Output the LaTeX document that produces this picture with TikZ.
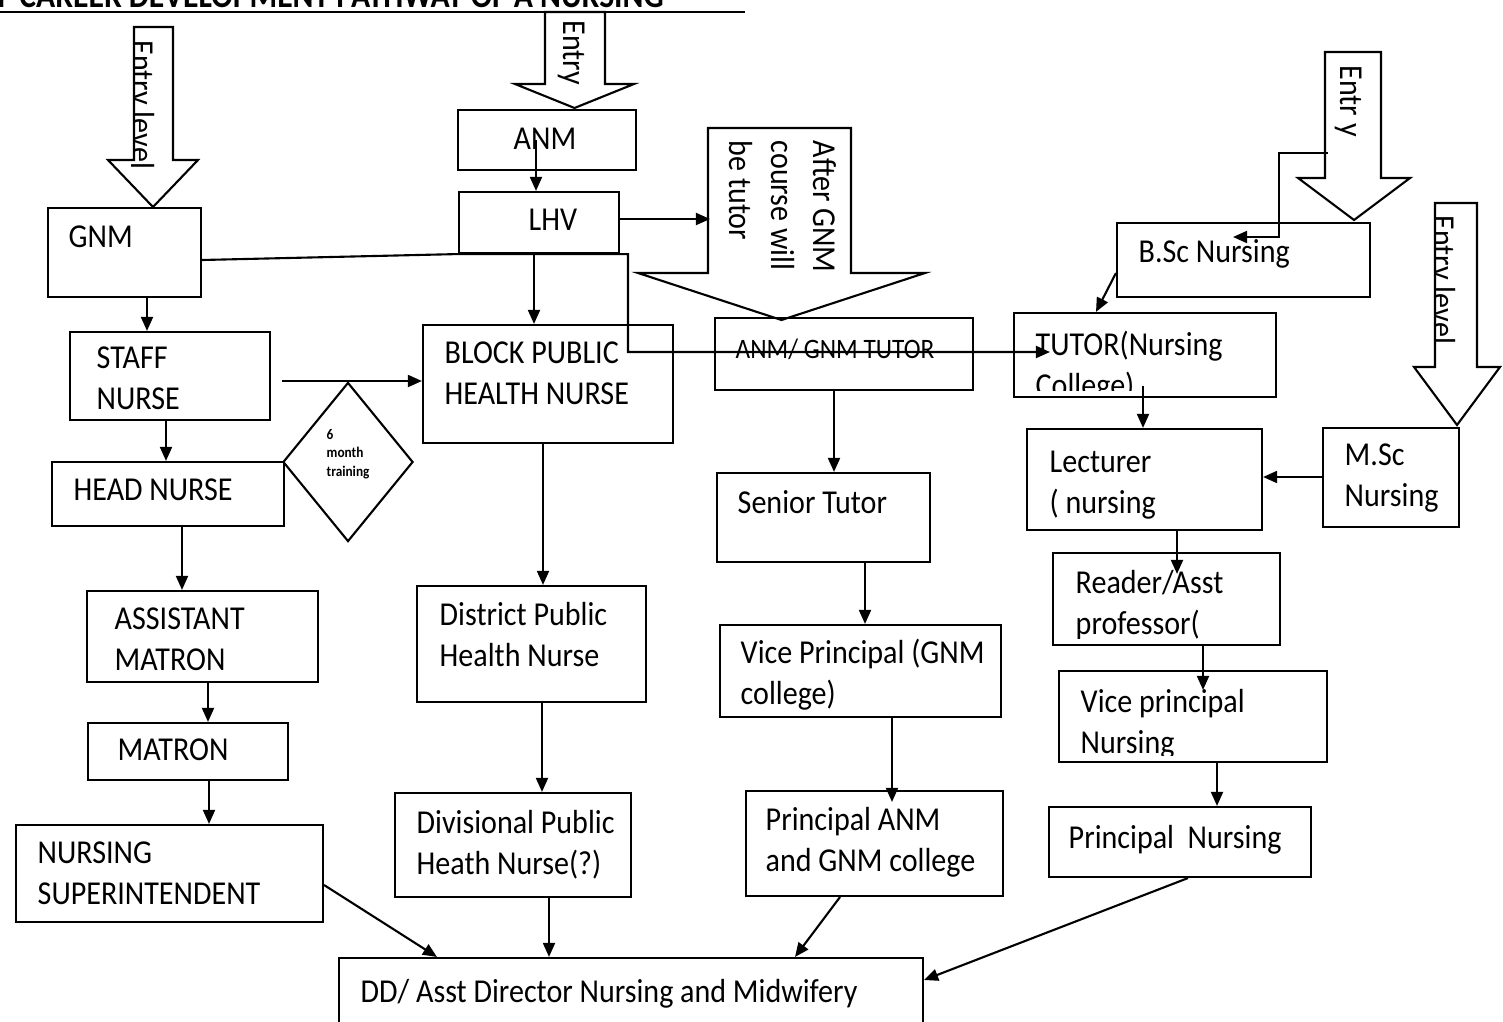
\documentclass[tikz,border=0pt]{standalone}
\usepackage{fontspec}
\setmainfont{Carlito}[FakeStretch=0.9]
\usepackage{tikz}
\usetikzlibrary{calc,fit,arrows.meta,shapes.geometric}

\newcommand{\boxfont}{\fontsize{9.5}{11.9}\selectfont}
\newcommand{\stacklines}[1]{\begin{tabular}[t]{@{}l@{}}#1\end{tabular}}

\tikzset{
	postframe/.style={draw, line width=0.6pt, inner sep=0pt},
	posttxt/.style={anchor=base west, inner sep=0pt, font=\boxfont},
	entryarrow/.style={draw, fill=white, line width=0.6pt, line join=miter},
	link/.style={line width=0.6pt, -{Triangle[length=4pt,width=3.4pt]}},
}

% a post of the pathway: name, two corners, start of the text, text
\newcommand{\postbox}[8]{%
	\node[postframe, fit={(#2,#3) (#4,#5)}] (#1) {};
	\begin{scope}
		\clip (#2,#3) rectangle (#4,#5-7);
		\node[posttxt] (#1-t) at (#6,#7) {\stacklines{#8}};
	\end{scope}
}
% big entry arrow: shaft left, shaft right, top, neck, head left, head right, tip
\newcommand{\entryshape}[7]{%
	\def\arrowoutline{(#1,#3) -- (#1,#4) -- (#5,#4) -- ({(#5+#6)/2},#7) -- (#6,#4) -- (#2,#4) -- (#2,#3) -- cycle}%
	\path[entryarrow] \arrowoutline;
}
% text running down the last entry arrow
\newcommand{\entrytext}[4]{%
	\begin{scope}
		\clip \arrowoutline;
		\node[posttxt, rotate=-90] (#1) at (#2,#3) {\stacklines{#4}};
	\end{scope}
}

\begin{document}
\begin{tikzpicture}[x=0.01cm, y=-0.01cm]
	% page frame
	\useasboundingbox (0,0) rectangle (1503,1021);
	\fill[white] (0,0) rectangle (1503,1021);
	\clip (0,0) rectangle (1503,1021);
	
	% title, cut by the top edge
	\node[anchor=base west, inner sep=0pt, font=\bfseries\fontsize{10}{12}\selectfont] (title) at (-3,8) {F CAREER DEVELOPMENT PATHWAY OF A NURSING};
	\draw[line width=0.7pt] (0,12) -- (745,12);
	
	% entry arrows
	\entryshape{134}{173}{27}{160}{108}{198}{207}
	\entrytext{entry-gnm}{131}{40}{Entry level}
	\entryshape{545}{605}{12}{84}{515}{634}{108}
	\entrytext{entry-anm}{563}{20}{Entry}
	\entryshape{708}{851}{128}{273}{638}{925}{320}
	\entrytext{after-gnm}{813}{140}{After GNM\\course will\\be tutor}
	\entryshape{1325}{1381}{52}{178}{1298}{1410}{220}
	\entrytext{entry-bsc}{1340}{65}{Entr y}
	\entryshape{1435}{1477}{203}{367}{1414}{1500}{425}
	\entrytext{entry-msc}{1432}{215}{Entry level}
	
	% hospital side
	\postbox{gnm}{48}{208}{201}{297}{68}{247}{GNM}
	\postbox{staff}{70}{332}{270}{420}{96}{368}{STAFF\\NURSE}
	\postbox{head}{52}{462}{284}{526}{73}{500}{HEAD NURSE}
	\postbox{asst}{87}{591}{318}{682}{114}{629}{ASSISTANT\\MATRON}
	\postbox{matron}{88}{723}{288}{780}{117}{760}{MATRON}
	\postbox{nsup}{16}{825}{323}{922}{37}{863}{NURSING\\SUPERINTENDENT}
	
	% community side
	\postbox{anm}{458}{110}{636}{170}{513}{149}{ANM}
	\postbox{lhv}{459}{192}{619}{253}{528}{230}{LHV}
	\postbox{block}{423}{325}{673}{443}{444}{363}{BLOCK PUBLIC\\HEALTH NURSE}
	\postbox{district}{417}{586}{646}{702}{439}{625}{District Public\\Health Nurse}
	\postbox{divisional}{395}{793}{631}{897}{416}{833}{Divisional Public\\Heath Nurse(?)}
	
	% ANM/GNM school side
	\postbox{anmtutor}{715}{318}{973}{390}{735}{358}{{\fontsize{8}{10}\selectfont ANM/ GNM TUTOR}}
	\postbox{senior}{717}{473}{930}{562}{737}{513}{Senior Tutor}
	\postbox{vicegnm}{720}{625}{1001}{717}{740}{663}{Vice Principal (GNM\\college)}
	\postbox{principalgnm}{746}{791}{1003}{896}{765}{830}{Principal ANM\\and GNM college}
	
	% college side
	\postbox{bsc}{1117}{223}{1370}{297}{1138}{262}{B.Sc Nursing}
	\postbox{tutor}{1014}{313}{1276}{397}{1035}{355}{TUTOR(Nursing\\College)}
	\postbox{lecturer}{1027}{429}{1262}{530}{1049}{472}{Lecturer\\( nursing}
	\postbox{msc}{1323}{428}{1459}{527}{1344}{465}{M.Sc\\Nursing}
	\postbox{reader}{1053}{553}{1280}{645}{1075}{593}{Reader/Asst\\professor(}
	\postbox{vicensg}{1059}{671}{1327}{762}{1080}{712}{Vice principal\\Nursing}
	\postbox{principalnsg}{1049}{807}{1311}{877}{1068}{848}{Principal\ \ Nursing}
	
	% top post
	\postbox{dd}{339}{958}{923}{1030}{360}{1002}{DD/ Asst Director Nursing and Midwifery}
	
	% training diamond
	\node[draw, diamond, line width=0.6pt, minimum width=1.30cm, minimum height=1.59cm, inner sep=0pt] (training) at (348,462) {};
	\node[posttxt, font=\bfseries\fontsize{4.2}{5.4}\selectfont] (training-t) at (326,439) {\stacklines{6\\month\\training}};
	
	% free ends
	\coordinate (staffout) at (282,381);
	\coordinate (aftergnm-in) at (710,219);
	\coordinate (tutor-in) at (1050,352);
	\coordinate (bsc-entry) at (1328,153);
	\coordinate (bsc-in) at (1233,237);
	
	% hospital arrows
	\draw[link] (147,0 |- gnm.south) -- (147,0 |- staff.north);
	\draw[link] (166,0 |- staff.south) -- (166,0 |- head.north);
	\draw[link] (182,0 |- head.south) -- (182,0 |- asst.north);
	\draw[link] (208,0 |- asst.south) -- (208,0 |- matron.north);
	\draw[link] (209,0 |- matron.south) -- (209,0 |- nsup.north);
	\draw[link] (nsup.east |- 0,885) -- (437,0 |- dd.north);
	\draw[link] (staffout) -- (block.west |- staffout);
	
	% community arrows
	\draw[link] (536,0 |- anm.center) -- (536,0 |- lhv.north);
	\draw[link] (lhv.east |- aftergnm-in) -- (aftergnm-in);
	\draw[link] (534,0 |- lhv.south) -- (534,0 |- block.north);
	\draw[link] (543,0 |- block.south) -- (543,0 |- district.north);
	\draw[link] (542,0 |- district.south) -- (542,0 |- divisional.north);
	\draw[link] (549,0 |- divisional.south) -- (549,0 |- dd.north);
	\draw[link] (gnm.east |- 0,260) -- (lhv.south west) -- (628,0 |- lhv.south) -- (628,352) -- (tutor-in);
	
	% school arrows
	\draw[link] (834,0 |- anmtutor.south) -- (834,0 |- senior.north);
	\draw[link] (865,0 |- senior.south) -- (865,0 |- vicegnm.north);
	\draw[link, shorten >=-0.12cm] (892,0 |- vicegnm.south) -- (892,0 |- principalgnm.north);
	\draw[link] (840,0 |- principalgnm.south) -- (795,0 |- dd.north);
	
	% college arrows
	\draw[link] (bsc-entry) -- (1279,153) -- (1279,237) -- (bsc-in);
	\draw[link] (bsc.west |- 0,273) -- (1096,0 |- tutor.north);
	\draw[link, shorten <=-0.12cm] (1143,0 |- tutor.south) -- (1143,0 |- lecturer.north);
	\draw[link] (msc.west |- 0,477) -- (lecturer.east |- 0,477);
	\draw[link, shorten >=-0.22cm] (1177,0 |- lecturer.south) -- (1177,0 |- reader.north);
	\draw[link, shorten >=-0.2cm] (1203,0 |- reader.south) -- (1203,0 |- vicensg.north);
	\draw[link] (1217,0 |- vicensg.south) -- (1217,0 |- principalnsg.north);
	\draw[link] (1188,0 |- principalnsg.south) -- (dd.east |- 0,980);
	
\end{tikzpicture}
\end{document}
